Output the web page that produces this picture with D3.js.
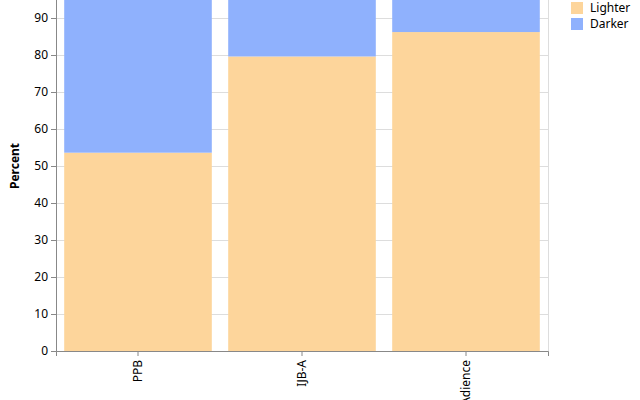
<!DOCTYPE html>
<html>
<head>
<meta charset="utf-8">
<script src="https://cdn.jsdelivr.net/npm/d3@7"></script>
<style>
  body { margin: 0; background: #fff; }
  svg { display: block; font-family: "Noto Sans", sans-serif; }
</style>
</head>
<body>
<svg width="640" height="400"></svg>
<script>
// data
var datasets = ["PPB", "IJB-A", "Adience"];
var lighter = [53.6, 79.6, 86.2];
var darker = [46.4, 20.4, 13.8];
var groups = ["Lighter", "Darker"];
var colors = ["#fdd59b", "#8fb1fd"];
var yTicks = [0, 10, 20, 30, 40, 50, 60, 70, 80, 90, 100];

var svg = d3.select("svg");
var marginLeft = 56, marginTop = -19;
var width = 492, height = 370;
var font = "Noto Sans, sans-serif";

var g = svg.append("g").attr("transform", "translate(" + marginLeft + "," + marginTop + ")");

var x = d3.scaleBand().domain(datasets).range([0, width]).paddingInner(0.1).paddingOuter(0.05);
var y = d3.scaleLinear().domain([0, 100]).range([height, 0]);
var color = d3.scaleOrdinal().domain(groups).range(colors);

// view border
g.append("rect").attr("x", 0.5).attr("y", 0.5).attr("width", width).attr("height", height)
  .attr("fill", "none").attr("stroke", "#ddd");

// grid
g.append("g").selectAll("line").data(yTicks).enter().append("line")
  .attr("x1", 0).attr("x2", width)
  .attr("y1", function(d) { return Math.round(y(d)) + 0.5; })
  .attr("y2", function(d) { return Math.round(y(d)) + 0.5; })
  .attr("stroke", "#ddd");

// stacked bars
var rows = datasets.map(function(d, i) { return {name: d, Lighter: lighter[i], Darker: darker[i]}; });
var stack = d3.stack().keys(groups)(rows);

g.append("g").selectAll("g").data(stack).enter().append("g")
  .attr("fill", function(s) { return color(s.key); })
  .selectAll("rect").data(function(s) { return s; }).enter().append("rect")
  .attr("x", function(d) { return x(d.data.name); })
  .attr("width", x.bandwidth())
  .attr("y", function(d) { return y(d[1]); })
  .attr("height", function(d) { return y(d[0]) - y(d[1]); });

// y axis
var yAxis = g.append("g")
  .call(d3.axisLeft(y).tickValues(yTicks).tickSize(5).tickPadding(3));
yAxis.select(".domain").attr("stroke", "#888");
yAxis.selectAll(".tick line").attr("stroke", "#888");
yAxis.selectAll("text").attr("font-size", 12).attr("fill", "#000").attr("font-family", font);

// x axis
var xAxis = g.append("g").attr("transform", "translate(0," + height + ")")
  .call(d3.axisBottom(x).tickSize(5).tickPadding(2));
xAxis.select(".domain").attr("stroke", "#888");
xAxis.selectAll(".tick line").attr("stroke", "#888");
xAxis.selectAll("text")
  .attr("font-size", 12).attr("fill", "#000").attr("font-family", font)
  .attr("transform", "rotate(-90)")
  .attr("text-anchor", "end")
  .attr("x", -9).attr("y", 0).attr("dy", "0.35em");

// y title
svg.append("text")
  .attr("transform", "translate(19," + (marginTop + height / 2) + ") rotate(-90)")
  .attr("text-anchor", "middle")
  .attr("font-size", 12).attr("font-weight", "bold").attr("font-family", font)
  .text("Percent");

// legend
var legend = svg.append("g").attr("transform", "translate(571,2)");
var item = legend.selectAll("g").data(groups).enter().append("g")
  .attr("transform", function(d, i) { return "translate(0," + (i * 16) + ")"; });
item.append("rect").attr("width", 12).attr("height", 12)
  .attr("fill", function(d) { return color(d); });
item.append("text").attr("x", 19).attr("y", 6).attr("dy", "0.35em")
  .attr("font-size", 12).attr("font-family", font).text(function(d) { return d; });
</script>
</body>
</html>
